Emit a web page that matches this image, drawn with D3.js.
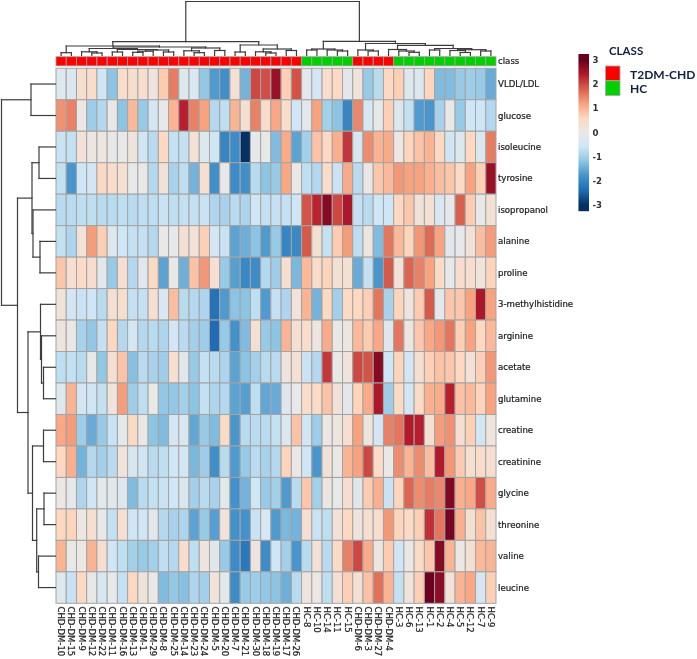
<!DOCTYPE html>
<html><head><meta charset="utf-8">
<script src="https://cdn.jsdelivr.net/npm/d3@7"></script>
<style>html,body{margin:0;padding:0;background:#fff}svg{display:block;filter:blur(.35px)}text{font-family:"DejaVu Sans",sans-serif;fill:#1c1c1c}</style>
</head><body><svg id="c" width="697" height="659"></svg>
<script>
const rowLabels=["VLDL/LDL","glucose","isoleucine","tyrosine","isopropanol","alanine","proline","3-methylhistidine","arginine","acetate","glutamine","creatine","creatinine","glycine","threonine","valine","leucine"];
const colLabels=["CHD-DM-10","CHD-DM-15","CHD-DM-9","CHD-DM-12","CHD-DM-22","CHD-DM-11","CHD-DM-16","CHD-DM-13","CHD-DM-1","CHD-DM-29","CHD-DM-8","CHD-DM-25","CHD-DM-14","CHD-DM-23","CHD-DM-24","CHD-DM-5","CHD-DM-20","CHD-DM-7","CHD-DM-21","CHD-DM-30","CHD-DM-18","CHD-DM-19","CHD-DM-17","CHD-DM-26","HC-8","HC-10","HC-14","HC-11","HC-15","CHD-DM-6","CHD-DM-3","CHD-DM-27","CHD-DM-4","HC-3","HC-6","HC-13","HC-1","HC-2","HC-4","HC-5","HC-12","HC-7","HC-9"];
const classNames=["T2DM-CHD","HC"];
const classColors=["#ff0000","#00d000"];
const legendTicks=[3,2,1,0,-1,-2,-3];
const colorStops=[-3,-2.4,-1.8,-1.2,-.6,0,.6,1.2,1.8,2.4,3];
const colorValues=["#053061","#1f6cb4","#4392cb","#8cc4e4","#cfe6f6","#eae8e6","#fed8c0","#f8a27e","#d9604d","#b4182b","#67001f"];
const values=[
[-.3,-.35,.4,.45,-.6,-1.2,.45,.4,.4,.15,.75,1.55,-.3,-.4,-1.15,-1.7,-1.85,.3,-1.4,2.0,1.95,2.6,.7,1.9,-.2,-.5,.45,.6,-.2,.2,-1.1,-.8,.6,.7,-.3,-.3,.65,-1.3,-1.3,-1.1,-1.05,-1.1,-1.5],
[1.35,1.5,.05,-1.05,-.85,0,-1.2,.95,-1.1,-.5,-.1,1.0,2.35,1.5,1.2,-.85,-.75,1.0,.3,1.5,.45,1.15,.45,-.6,-.2,1.2,-1.0,-1.2,-2.0,1.45,-.4,-.1,.7,-.35,-.7,-1.7,-1.75,-.95,0,-1.1,-.6,-.6,-.85],
[-.65,-.7,.25,.1,.1,-.1,-.05,.15,-.55,-.8,.6,-.7,-.7,.25,-.3,-.55,-2.0,-1.9,-3.0,-.1,-.05,-1.3,1.1,-1.6,-1.0,.85,.55,1.05,2.15,-.45,1.4,1.0,1.1,.05,.65,.85,1.0,.6,-.55,-.3,.6,-.35,1.55],
[-.7,-1.75,-.6,-.5,.55,.45,.3,-.1,-.05,-.85,.25,-.95,-.75,-1.4,.3,-1.85,0,-1.9,-1.85,-.8,-1.2,-1.1,1.15,0,-.75,-.85,.45,-.65,1.1,-.8,0,.8,.95,1.3,1.2,1.2,1.05,.9,.8,.5,1.2,.7,2.6],
[-.8,-.8,-.75,-.75,-.8,-.8,-.75,-.8,-.75,-.75,-.65,-.75,-.7,-.7,-.65,-.9,-.95,-.8,-.9,-.55,-.7,-.7,-.7,-.6,1.9,2.3,2.75,2.0,2.45,-.7,-.8,-.6,-.6,.6,.8,.25,.3,-.4,-.1,1.8,.75,-.1,.3],
[-.7,-.9,.25,1.25,.7,-.3,-.6,-.7,-.7,-.85,0,-.1,.3,.25,.7,-.5,-.65,-1.6,-1.45,-1.2,-1.7,-1.1,-2.0,-1.95,1.85,.3,-.7,.75,1.25,-.75,.1,-1.3,1.6,.95,.65,1.3,1.7,1.2,-.2,-.1,.25,.9,1.25],
[.8,.35,.5,.4,-.2,-1.1,.35,-.85,-.2,.55,-1.6,-.05,-1.45,.85,1.3,.35,-1.1,-1.65,-1.95,-1.9,-.85,-1.05,.35,-1.35,.95,.45,.65,.3,.3,-1.5,-.7,-1.75,1.85,.25,1.75,1.5,1.2,.5,-.1,.4,.4,.15,.65],
[.25,-.5,-.65,-.6,-.8,.3,.4,-.7,-.7,.35,-.4,.9,-.8,-.85,-.9,-2.3,-1.7,-1.2,-1.2,-.75,-1.7,-.7,-.9,.2,1.0,-1.4,.6,-1.0,.5,.6,.7,1.6,-.95,.65,.15,.75,1.85,-.15,.8,.8,1.2,2.45,1.2],
[.15,.05,-.95,-1.15,-.7,.6,-.85,-.45,-.85,-.8,-.9,-.5,-.8,-1.0,-1.05,-2.4,-1.1,-1.8,-1.3,.35,-1.1,-1.2,1.0,.3,.45,.1,1.1,0,.1,.95,.75,1.15,-.25,1.6,.1,.8,1.15,1.3,1.6,.7,1.2,.6,.95],
[-.75,-.7,-.8,-.05,-1.15,.35,.85,-1.25,-.8,-.95,-1.05,.35,-.2,-1.1,-.7,-.8,-.9,-1.6,-1.2,-1.0,-.8,-.8,.15,.3,-.65,-.85,2.15,0,.15,2.0,1.9,2.75,-.6,.65,-.5,.35,.7,.85,.8,.6,.25,.7,1.3],
[-.3,1.0,-.5,-.55,-.7,.2,1.25,-1.05,-.75,-.05,-1.15,-1.15,-1.0,-1.2,-.7,-.9,-.85,-1.6,-1.65,-.75,-1.55,-1.5,-.25,-.1,.45,.5,.85,.25,-.2,.65,1.1,2.45,-1.05,.5,-.5,.5,1.05,1.1,2.35,.85,.95,.65,1.2],
[1.15,1.25,-1.05,-1.5,-1.1,-.65,-.15,.55,0,-1.2,-1.3,-.5,-.35,-1.55,-1.1,-1.3,.5,-1.75,-.8,-.8,-.8,-.7,-.3,.85,-.55,-1.05,.05,.1,.35,1.2,.15,-.5,1.5,1.6,2.4,2.35,.3,1.25,1.35,.35,.7,-.55,.15],
[.6,1.05,-1.4,-.85,-1.0,-.8,.2,-.45,-.55,-.8,-.75,-.6,-.5,-1.35,-1.05,-1.85,-.8,-1.7,-1.1,-.8,-.95,-.85,.65,0,-.55,-1.75,.25,-.05,1.0,1.2,2.0,.5,0,1.4,1.0,1.4,.9,2.4,1.3,.75,.35,.45,.35],
[.05,-.1,-.9,-.6,-.15,-.2,-.3,-1.3,-.8,-.7,-.65,-.6,-.35,-1.0,-.8,-.95,-.15,-1.8,-1.4,-.55,-1.1,-1.0,-1.7,-.8,.8,-1.0,.1,-.1,.4,-.25,.75,1.05,-.65,.65,1.75,1.4,1.55,1.45,2.8,1.05,1.15,1.95,1.1],
[.6,.65,.05,.35,-.1,-.7,.35,-.6,-.6,-.2,-.85,-.95,-.9,-1.6,-1.1,-1.65,.2,-1.8,-1.8,-.65,-.4,-1.7,-1.35,-1.4,.35,-.65,-.75,.25,.6,.15,.35,.4,1.3,.65,.5,.7,2.2,1.6,2.9,1.05,.3,.85,.3],
[1.0,-.05,.05,1.0,.4,-.6,-.75,-1.0,-1.1,-1.0,-.75,-.85,.4,-.75,.15,-.2,-1.1,-1.9,-2.2,.15,-1.9,-.6,-1.0,-1.75,-.8,.25,-.8,.5,1.5,2.0,1.1,.1,.75,-.55,0,.5,.8,2.75,1.0,.05,.3,.95,1.0],
[-.3,-.65,.55,-.05,-.45,-.1,-.7,.6,.15,0,-1.3,-1.15,-1.25,-.9,-1.0,.2,-.15,-1.9,-1.1,-1.05,-1.15,-1.2,-1.45,-.8,.15,.05,-.75,.3,.7,.3,.85,1.65,1.0,-.7,.2,.7,2.95,2.7,.2,1.0,1.15,-.5,.7]
];
const colClass=[0,0,0,0,0,0,0,0,0,0,0,0,0,0,0,0,0,0,0,0,0,0,0,0,1,1,1,1,1,0,0,0,0,1,1,1,1,1,1,1,1,1,1];
// merges: [left, right, height]; ids below 100 are leaves, 100+i is merge i
const colMerges=[[0,1,2.8],[3,4,2.5],[2,101,3.7],[5,6,3.5],[7,8,3.2],[104,9,4.3],[10,11,3.5],[105,106,5.5],[103,107,6],[102,108,7],[13,14,2.8],[12,110,4.7],[15,16,5],[111,112,7.5],[109,113,8.5],[100,114,9.5],[17,18,3.5],[20,21,2.5],[19,117,3.7],[22,23,5],[118,119,6.5],[116,120,10.5],[115,121,13.9],[24,25,5.5],[27,28,4.5],[26,124,5.5],[123,125,6.5],[30,31,4.5],[29,127,5.5],[34,35,3.2],[33,129,4.5],[32,130,6],[36,37,5.5],[39,40,3],[38,133,5],[41,42,4.5],[134,135,5.8],[132,136,7],[131,137,10.2],[128,138,12],[126,139,14.2],[122,140,54]];
const rowMerges=[[0,1,24.5],[2,3,16.5],[5,6,15.5],[4,102,22.5],[101,103,23.5],[9,10,12],[8,105,14],[7,106,15],[11,12,12],[13,14,11.5],[15,16,17],[109,110,18.8],[108,111,23],[107,112,27.5],[104,113,38],[100,114,54]];

const svg=d3.select("#c");
const x=d3.scaleBand().domain(d3.range(colLabels.length)).range([56,496]);
const y=d3.scaleBand().domain(d3.range(rowLabels.length)).range([68.3,603.3]);
const color=d3.scaleLinear().domain(colorStops).range(colorValues).clamp(true);
const grid="#a4a4a4";
const g=svg.append("g");
values.forEach((row,r)=>{
  g.selectAll(null).data(row).join("rect")
   .attr("x",(d,i)=>x(i)).attr("y",y(r)).attr("width",x.bandwidth()).attr("height",y.bandwidth())
   .attr("fill",d=>color(d)).attr("stroke",grid).attr("stroke-width",1);
});
g.append("g").selectAll("rect").data(colClass).join("rect")
 .attr("x",(d,i)=>x(i)).attr("y",56.7).attr("width",x.bandwidth()).attr("height",9.2)
 .attr("fill",d=>classColors[d]).attr("stroke",grid).attr("stroke-width",.8);
const dark=s=>s.attr("stroke","#1c1c1c").attr("stroke-width",.22);
svg.append("text").attr("x",498).attr("y",61.3).attr("dy",".35em").attr("font-size",8.6).call(dark).text("class");
svg.append("g").selectAll("text").data(rowLabels).join("text")
 .attr("x",498).attr("y",(d,i)=>y(i)+y.bandwidth()/2).attr("dy",".35em").attr("font-size",8.6).call(dark).text(d=>d);
svg.append("g").selectAll("text").data(colLabels).join("text")
 .attr("transform",(d,i)=>`translate(${x(i)+x.bandwidth()/2},606.5) rotate(90)`)
 .attr("dy",".35em").attr("font-size",8.5).call(dark).text(d=>d);
function dendro(merges,leafPos,posFn){
  const nodes=[];const segs=[];
  const get=id=>id>=100?nodes[id-100]:{p:leafPos(id),h:0};
  merges.forEach(([a,b,h])=>{
    const A=get(a),B=get(b);
    segs.push([A.p,A.h,A.p,h],[A.p,h,B.p,h],[B.p,h,B.p,B.h]);
    nodes.push({p:(A.p+B.p)/2,h});
  });
  return segs.map(posFn);
}
const hCol=d3.scaleLinear().domain([0,54]).range([55.5,1.5]);
const hRow=d3.scaleLinear().domain([0,54]).range([55.5,1.5]);
const dline=(sel,segs)=>sel.selectAll("line").data(segs).join("line")
 .attr("x1",d=>d[0]).attr("y1",d=>d[1]).attr("x2",d=>d[2]).attr("y2",d=>d[3])
 .attr("stroke","#3c3c3c").attr("stroke-width",1.2).attr("stroke-linecap","square");
dline(svg.append("g"),dendro(colMerges,i=>x(i)+x.bandwidth()/2,s=>[s[0],hCol(s[1]),s[2],hCol(s[3])]));
dline(svg.append("g"),dendro(rowMerges,i=>y(i)+y.bandwidth()/2,s=>[hRow(s[1]),s[0],hRow(s[3]),s[2]]));
const ly=d3.scaleLinear().domain([3,-3]).range([60,205]);
const strip=d3.range(54,211);
svg.append("g").selectAll("rect").data(strip).join("rect")
 .attr("x",578.5).attr("y",d=>d).attr("width",10.5).attr("height",1.2).attr("fill",d=>color(ly.invert(d+.5)));
svg.append("g").selectAll("text").data(legendTicks).join("text")
 .attr("x",592.5).attr("y",d=>ly(d)).attr("dy",".35em").attr("font-size",8.6).attr("font-weight","bold").style("fill","#333").text(d=>d);
const L=svg.append("g");
L.append("text").attr("x",609).attr("y",55).style("font-family","Lato").style("fill","#10203c").attr("font-weight","bold").attr("font-size",11.5).text("CLASS");
const ls=d3.scaleBand().domain(classNames).range([66,95.5]);
L.selectAll("rect").data(classNames).join("rect")
 .attr("x",605.5).attr("y",d=>ls(d)).attr("width",14.5).attr("height",ls.bandwidth())
 .attr("fill",(d,i)=>classColors[i]).attr("stroke","#aaa").attr("stroke-width",.8);
L.selectAll("text.n").data(classNames).join("text").attr("class","n")
 .attr("x",630).attr("y",d=>ls(d)+ls.bandwidth()/2+1).attr("dy",".35em")
 .style("font-family","Lato").style("fill","#10203c").attr("font-weight","bold").attr("font-size",12).text(d=>d);
</script></body></html>
